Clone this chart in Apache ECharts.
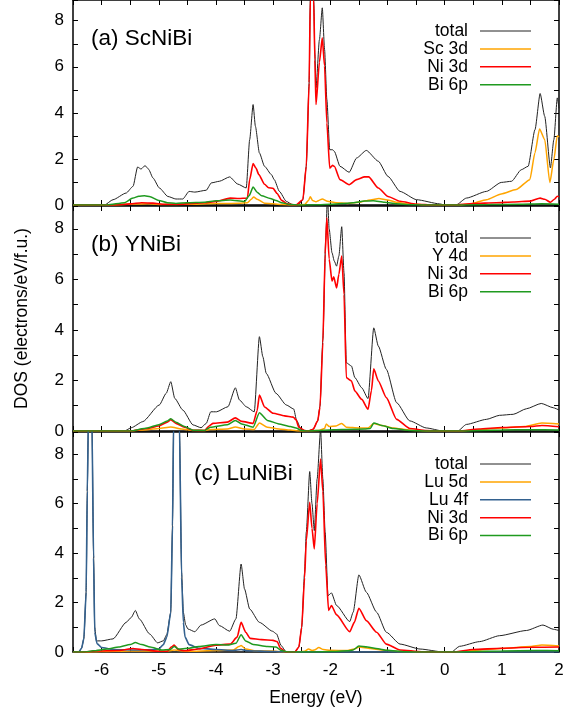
<!DOCTYPE html>
<html>
<head>
<meta charset="utf-8">
<script src="https://cdn.jsdelivr.net/npm/echarts@6/dist/echarts.min.js"></script>
<style>
  html, body { margin: 0; padding: 0; background: #fff; }
  #chart { width: 575px; height: 713px; }
</style>
</head>
<body>
<div id="chart"></div>
<script>
// energy (eV), DOS pairs

// (a) ScNiBi
const scTotal = [[-6.5,0],[-5.95,0],[-5.80,0.23],[-5.57,0.52],[-5.45,0.81],[-5.37,1.65],[-5.31,1.56],[-5.24,1.71],[-5.18,1.56],[-5.10,1.17],[-4.99,0.74],[-4.84,0.37],[-4.70,0.26],[-4.58,0.26],[-4.47,0.59],[-4.37,0.56],[-4.17,0.64],[-4.08,0.96],[-3.94,1.03],[-3.76,1.22],[-3.62,0.91],[-3.47,0.74],[-3.41,2.84],[-3.35,4.36],[-3.31,3.42],[-3.24,2.26],[-3.15,1.68],[-3.03,1.32],[-2.98,1.10],[-2.89,0.59],[-2.77,0.16],[-2.66,0.01],[-2.56,0],[-2.48,0.23],[-2.42,1.68],[-2.37,5.3],[-2.35,8.9],[-2.32,10.0],[-2.29,8.9],[-2.27,6.6],[-2.25,5.09],[-2.19,7.18],[-2.14,8.56],[-2.10,6.75],[-2.06,4.58],[-2.01,2.4],[-1.96,2.4],[-1.93,2.33],[-1.83,1.68],[-1.67,1.42],[-1.54,2.04],[-1.37,2.37],[-1.16,1.90],[-0.99,1.24],[-0.78,0.59],[-0.49,0.23],[-0.09,0.05],[0,0],[0.2,0],[0.38,0.30],[0.73,0.59],[0.99,0.98],[1.17,1.03],[1.34,1.53],[1.46,1.68],[1.58,3.27],[1.67,4.84],[1.75,3.85],[1.85,1.61],[1.91,2.84],[1.97,4.65],[2.0,4.2]];
const scSc3d = [[-6.5,0],[-5.8,0],[-5.4,0.04],[-5.2,0.05],[-4.9,0.02],[-4.5,0.03],[-4.0,0.06],[-3.6,0.08],[-3.45,0.1],[-3.38,0.25],[-3.34,0.35],[-3.28,0.25],[-3.15,0.08],[-3.0,0.05],[-2.85,0.02],[-2.7,0],[-2.45,0.02],[-2.38,0.2],[-2.35,0.36],[-2.31,0.2],[-2.25,0.14],[-2.2,0.2],[-2.14,0.26],[-2.05,0.16],[-1.9,0.1],[-1.7,0.07],[-1.5,0.12],[-1.3,0.22],[-1.15,0.28],[-1.0,0.22],[-0.85,0.12],[-0.6,0.04],[-0.3,0.01],[0,0],[0.25,0],[0.45,0.05],[0.73,0.23],[0.99,0.48],[1.25,0.67],[1.49,1.1],[1.58,2.27],[1.66,3.3],[1.75,2.84],[1.84,0.98],[1.91,1.97],[1.97,3.01],[2.0,2.95]];
const scNi3d = [[-6.5,0],[-5.8,0],[-5.5,0.05],[-5.3,0.1],[-5.1,0.08],[-4.9,0.03],[-4.6,0.04],[-4.2,0.1],[-4.0,0.15],[-3.75,0.3],[-3.6,0.28],[-3.45,0.3],[-3.41,1.1],[-3.35,1.80],[-3.30,1.6],[-3.25,1.32],[-3.15,0.9],[-3.08,0.75],[-3.0,0.72],[-2.93,0.5],[-2.85,0.2],[-2.75,0.05],[-2.6,0],[-2.48,0.23],[-2.42,1.68],[-2.37,5.3],[-2.35,8.9],[-2.32,10.0],[-2.29,8.9],[-2.27,6.3],[-2.25,4.36],[-2.19,6.2],[-2.14,7.26],[-2.10,6.03],[-2.06,3.56],[-2.01,1.6],[-1.96,1.72],[-1.93,1.68],[-1.83,1.10],[-1.67,0.88],[-1.54,1.10],[-1.40,1.22],[-1.33,1.22],[-1.16,0.74],[-0.99,0.37],[-0.78,0.16],[-0.49,0.03],[-0.2,0],[0.15,0],[0.5,0.06],[0.9,0.1],[1.2,0.13],[1.5,0.17],[1.67,0.30],[1.75,0.25],[1.85,0.12],[1.92,0.25],[1.97,0.38],[2.0,0.36]];
const scBi6p = [[-6.5,0],[-5.9,0],[-5.6,0.1],[-5.45,0.3],[-5.35,0.38],[-5.25,0.4],[-5.15,0.36],[-5.0,0.2],[-4.85,0.1],[-4.7,0.07],[-4.5,0.1],[-4.2,0.12],[-4.0,0.18],[-3.75,0.22],[-3.5,0.15],[-3.42,0.4],[-3.35,0.78],[-3.28,0.55],[-3.2,0.4],[-3.05,0.28],[-2.95,0.2],[-2.85,0.1],[-2.7,0.02],[-2.55,0],[-2.2,0.01],[-2.0,0.03],[-1.8,0.06],[-1.6,0.1],[-1.4,0.17],[-1.25,0.18],[-1.05,0.12],[-0.85,0.05],[-0.6,0.01],[0,0],[0.3,0],[0.8,0.02],[1.3,0.03],[1.7,0.05],[2.0,0.03]];

// (b) YNiBi
const yTotal = [[-6.5,0],[-5.6,0],[-5.48,0.13],[-5.28,0.37],[-4.99,1.03],[-4.87,1.49],[-4.79,1.95],[-4.72,1.29],[-4.58,0.83],[-4.40,0.24],[-4.26,0.13],[-4.17,0.30],[-4.09,0.76],[-3.99,0.76],[-3.79,0.96],[-3.66,1.71],[-3.59,1.23],[-3.47,0.96],[-3.33,0.76],[-3.24,3.73],[-3.18,2.94],[-3.12,2.28],[-2.95,1.49],[-2.77,1.03],[-2.64,0.87],[-2.59,0.43],[-2.51,0.05],[-2.40,0],[-2.30,0.07],[-2.22,0.4],[-2.18,0.99],[-2.13,3.62],[-2.08,7.58],[-2.05,9.3],[-2.02,8.0],[-1.97,7.05],[-1.93,6.72],[-1.89,6.52],[-1.85,6.92],[-1.80,8.08],[-1.76,6.26],[-1.72,2.70],[-1.63,2.57],[-1.57,2.11],[-1.45,1.71],[-1.34,1.28],[-1.24,4.08],[-1.16,3.36],[-1.02,2.44],[-0.84,1.12],[-0.61,0.40],[-0.32,0.12],[-0.03,0],[0.23,0],[0.38,0.26],[0.73,0.46],[0.96,0.62],[1.20,0.66],[1.43,0.88],[1.69,1.09],[1.90,0.92],[2.0,0.83]];
const yY4d = [[-6.5,0],[-5.5,0],[-5.2,0.05],[-5.0,0.1],[-4.79,0.16],[-4.6,0.08],[-4.4,0.02],[-4.2,0.02],[-4.1,0.06],[-3.8,0.08],[-3.66,0.16],[-3.5,0.08],[-3.33,0.06],[-3.24,0.32],[-3.1,0.15],[-2.9,0.08],[-2.7,0.04],[-2.55,0],[-2.2,0.02],[-2.1,0.1],[-2.07,0.28],[-2.02,0.18],[-1.9,0.2],[-1.8,0.3],[-1.72,0.15],[-1.5,0.12],[-1.34,0.12],[-1.24,0.3],[-1.1,0.22],[-0.9,0.12],[-0.6,0.03],[-0.3,0],[0.3,0],[0.6,0.05],[1.0,0.12],[1.4,0.18],[1.7,0.32],[2.0,0.28]];
const yNi3d = [[-6.5,0],[-5.5,0],[-5.2,0.1],[-5.0,0.2],[-4.85,0.35],[-4.79,0.45],[-4.7,0.3],[-4.55,0.15],[-4.4,0.03],[-4.2,0.02],[-4.12,0.2],[-4.05,0.3],[-3.8,0.35],[-3.66,0.52],[-3.55,0.38],[-3.35,0.3],[-3.28,0.8],[-3.24,1.42],[-3.15,0.95],[-3.0,0.7],[-2.8,0.6],[-2.65,0.55],[-2.6,0.45],[-2.55,0.15],[-2.45,0.02],[-2.38,0],[-2.30,0.07],[-2.22,0.4],[-2.18,0.95],[-2.13,3.5],[-2.09,7.0],[-2.06,8.43],[-2.02,6.8],[-1.97,5.93],[-1.94,6.1],[-1.89,5.66],[-1.85,6.2],[-1.80,6.92],[-1.76,5.4],[-1.72,2.11],[-1.63,1.98],[-1.57,1.58],[-1.45,1.25],[-1.34,0.86],[-1.28,1.6],[-1.24,2.46],[-1.16,1.98],[-1.02,1.32],[-0.84,0.46],[-0.61,0.1],[-0.32,0.02],[0,0],[0.25,0],[0.6,0.08],[1.0,0.14],[1.5,0.18],[1.7,0.22],[2.0,0.17]];
const yBi6p = [[-6.5,0],[-5.5,0],[-5.2,0.12],[-5.0,0.25],[-4.85,0.4],[-4.79,0.48],[-4.7,0.35],[-4.55,0.18],[-4.4,0.03],[-4.2,0.02],[-4.1,0.15],[-3.8,0.25],[-3.66,0.42],[-3.55,0.28],[-3.35,0.15],[-3.24,0.72],[-3.1,0.42],[-2.9,0.28],[-2.7,0.18],[-2.6,0.12],[-2.5,0.02],[-2.4,0],[-2.1,0.03],[-1.8,0.06],[-1.4,0.08],[-1.3,0.1],[-1.24,0.32],[-1.1,0.22],[-0.9,0.1],[-0.6,0.02],[-0.3,0],[0.3,0],[1.0,0.04],[1.5,0.05],[2.0,0.04]];

// (c) LuNiBi
const luTotal = [[-6.5,0],[-6.40,0],[-6.35,0.15],[-6.31,0.54],[-6.27,2.43],[-6.25,6.5],[-6.23,9.5],[-6.20,25],[-6.17,9.5],[-6.14,3.9],[-6.12,1.0],[-6.09,0.45],[-6.0,0.45],[-5.80,0.53],[-5.57,1.20],[-5.48,1.40],[-5.41,1.68],[-5.34,1.34],[-5.16,0.73],[-5.02,0.37],[-4.92,0.45],[-4.86,0.7],[-4.79,1.6],[-4.76,5.1],[-4.74,9.3],[-4.69,25],[-4.64,9.3],[-4.60,3.2],[-4.57,1.6],[-4.53,1.1],[-4.49,0.93],[-4.37,0.82],[-4.26,1.09],[-4.02,1.34],[-3.94,1.07],[-3.76,0.84],[-3.65,1.34],[-3.56,3.56],[-3.50,2.55],[-3.41,1.74],[-3.24,1.20],[-3.01,0.84],[-2.94,0.73],[-2.86,0.26],[-2.77,0],[-2.62,0],[-2.55,0.2],[-2.50,1.0],[-2.45,3.2],[-2.42,4.85],[-2.36,7.30],[-2.32,6.0],[-2.28,4.91],[-2.23,7.0],[-2.17,9.0],[-2.13,7.0],[-2.09,4.85],[-2.04,2.28],[-1.98,2.39],[-1.89,1.88],[-1.66,1.23],[-1.60,1.61],[-1.50,3.12],[-1.37,2.42],[-1.19,1.61],[-1.02,0.80],[-0.78,0.32],[-0.43,0.12],[-0.02,0],[0.12,0],[0.26,0.23],[0.61,0.42],[0.96,0.66],[1.43,0.87],[1.72,1.09],[1.90,0.92],[2.0,0.87]];
const luLu5d = [[-6.5,0],[-6.3,0],[-6.0,0.02],[-5.5,0.04],[-5.2,0.05],[-4.9,0.03],[-4.73,0.08],[-4.5,0.03],[-4.0,0.06],[-3.7,0.08],[-3.6,0.22],[-3.56,0.26],[-3.48,0.12],[-3.3,0.05],[-3.0,0.04],[-2.85,0.01],[-2.6,0],[-2.45,0.03],[-2.38,0.12],[-2.32,0.06],[-2.28,0.08],[-2.2,0.18],[-2.12,0.1],[-2.0,0.07],[-1.7,0.06],[-1.58,0.12],[-1.5,0.2],[-1.3,0.14],[-1.1,0.08],[-0.8,0.02],[-0.4,0],[0.2,0],[0.6,0.08],[1.0,0.14],[1.5,0.22],[1.7,0.28],[2.0,0.24]];
const luLu4f = [[-6.5,0],[-6.40,0],[-6.35,0.15],[-6.31,0.54],[-6.27,2.43],[-6.25,6.5],[-6.23,9.5],[-6.20,25],[-6.17,9.5],[-6.14,3.8],[-6.12,0.8],[-6.08,0.34],[-6.0,0.18],[-5.8,0.1],[-5.4,0.08],[-5.1,0.1],[-5.0,0.12],[-4.92,0.3],[-4.86,0.6],[-4.79,1.6],[-4.76,5.1],[-4.74,9.3],[-4.69,25],[-4.64,9.3],[-4.60,3.0],[-4.57,1.2],[-4.54,0.6],[-4.47,0.3],[-4.3,0.15],[-4.0,0.1],[-3.7,0.06],[-3.56,0.1],[-3.45,0.05],[-3.0,0.02],[-2.6,0],[2.0,0]];
const luNi3d = [[-6.5,0],[-6.3,0],[-6.1,0.04],[-5.7,0.06],[-5.45,0.14],[-5.3,0.1],[-5.0,0.03],[-4.85,0.03],[-4.78,0.2],[-4.73,0.28],[-4.66,0.1],[-4.55,0.05],[-4.3,0.12],[-4.0,0.28],[-3.75,0.32],[-3.63,0.6],[-3.56,1.2],[-3.48,0.8],[-3.4,0.55],[-3.2,0.5],[-3.0,0.47],[-2.93,0.42],[-2.87,0.15],[-2.78,0],[-2.62,0],[-2.55,0.2],[-2.50,1.0],[-2.45,3.0],[-2.42,4.5],[-2.36,6.06],[-2.32,5.0],[-2.28,4.17],[-2.23,6.0],[-2.17,7.81],[-2.13,6.5],[-2.08,3.5],[-2.03,1.68],[-1.98,1.88],[-1.89,1.50],[-1.66,0.82],[-1.58,1.2],[-1.50,1.77],[-1.37,1.27],[-1.19,0.80],[-1.02,0.32],[-0.78,0.08],[-0.4,0.01],[0,0],[0.15,0],[0.5,0.1],[1.0,0.15],[1.5,0.19],[2.0,0.2]];
const luBi6p = [[-6.5,0],[-6.3,0],[-6.15,0.05],[-5.9,0.12],[-5.7,0.2],[-5.5,0.3],[-5.41,0.38],[-5.3,0.3],[-5.15,0.2],[-4.95,0.08],[-4.8,0.1],[-4.73,0.22],[-4.65,0.12],[-4.5,0.15],[-4.3,0.22],[-4.0,0.3],[-3.8,0.28],[-3.65,0.35],[-3.56,0.70],[-3.48,0.45],[-3.35,0.3],[-3.1,0.22],[-2.95,0.2],[-2.85,0.06],[-2.75,0],[-2.3,0],[-2.0,0.02],[-1.7,0.05],[-1.6,0.08],[-1.5,0.24],[-1.35,0.2],[-1.2,0.14],[-1.0,0.07],[-0.7,0.01],[-0.4,0],[0.2,0],[1.0,0.04],[1.6,0.06],[2.0,0.05]];

const panelTitles = ['(a) ScNiBi', '(b) YNiBi', '(c) LuNiBi'];
const xMin = -6.5, xMax = 2, yMax = 8.9;

const C = { total: '#222222', d: '#ffa500', f: '#33618f', ni: '#ff0000', bi: '#1f9a1f' };

const panels = [
  [['total', scTotal, C.total, 1], ['Sc 3d', scSc3d, C.d, 1.5], ['Ni 3d', scNi3d, C.ni, 1.6], ['Bi 6p', scBi6p, C.bi, 1.5]],
  [['total', yTotal, C.total, 1], ['Y 4d', yY4d, C.d, 1.5], ['Ni 3d', yNi3d, C.ni, 1.6], ['Bi 6p', yBi6p, C.bi, 1.5]],
  [['total', luTotal, C.total, 1], ['Lu 5d', luLu5d, C.d, 1.5], ['Lu 4f', luLu4f, C.f, 1.6], ['Ni 3d', luNi3d, C.ni, 1.6], ['Bi 6p', luBi6p, C.bi, 1.5]]
];

const gridBoxes = [{ top: 0, h: 205 }, { top: 206, h: 225 }, { top: 432, h: 220 }];
const FONT = 'Liberation Sans, Arial, Helvetica, sans-serif';

const grid = [], xAxis = [], yAxis = [], series = [], graphic = [];
const axisLine = { show: true, onZero: false, lineStyle: { color: '#000', width: 1.5 } };

gridBoxes.forEach((g, i) => {
  grid.push({ left: 73, right: 16, top: g.top, height: g.h, containLabel: false });
  [ 'bottom', 'top' ].forEach(pos => {
    xAxis.push({
      type: 'value', gridIndex: i, position: pos, min: xMin, max: xMax, interval: 0.5,
      axisLine: axisLine,
      axisTick: { show: true, inside: true, length: 5, lineStyle: { color: '#000', width: 1 } },
      axisLabel: {
        show: pos === 'bottom' && i === 2, margin: 10, color: '#000', fontSize: 17, fontFamily: FONT,
        formatter: v => Number.isInteger(v) ? String(v) : ''
      },
      splitLine: { show: false },
      name: pos === 'bottom' && i === 2 ? 'Energy (eV)' : '',
      nameLocation: 'middle', nameGap: 37,
      nameTextStyle: { color: '#000', fontSize: 17.5, fontFamily: FONT }
    });
  });
  [ 'left', 'right' ].forEach(pos => {
    yAxis.push({
      type: 'value', gridIndex: i, position: pos, min: 0, max: yMax, interval: 1,
      axisLine: axisLine,
      axisTick: { show: true, inside: true, length: 5, lineStyle: { color: '#000', width: 1 } },
      axisLabel: {
        show: pos === 'left', margin: 9, color: '#000', fontSize: 17, fontFamily: FONT,
        formatter: v => (Number.isInteger(v) && v % 2 === 0) ? String(v) : ''
      },
      splitLine: { show: false },
      name: pos === 'left' && i === 1 ? 'DOS (electrons/eV/f.u.)' : '',
      nameLocation: 'middle', nameGap: 42,
      nameTextStyle: { color: '#000', fontSize: 17.5, fontFamily: FONT }
    });
  });

  // panel title
  graphic.push({
    type: 'text', left: i === 2 ? 194 : 91, top: g.top + (i === 2 ? 30 : 27),
    style: { text: panelTitles[i], font: '22.5px ' + FONT, fill: '#000' }
  });

  panels[i].forEach((s, k) => {
    series.push({
      type: 'line', name: s[0] + ' ' + i, xAxisIndex: 2 * i, yAxisIndex: 2 * i,
      data: s[1], showSymbol: false, symbol: 'none', clip: true, z: 2 + k,
      smooth: 0.2, smoothMonotone: 'x',
      lineStyle: { color: s[2], width: s[3] }, animation: false
    });
    // legend row
    const rowY = g.top + (i === 0 ? 31 : 32) + k * 17.9;
    graphic.push({
      type: 'text', x: 468, y: rowY,
      style: { text: s[0], font: '17.5px ' + FONT, fill: '#000', textAlign: 'right', textVerticalAlign: 'middle' }
    });
    graphic.push({
      type: 'line', shape: { x1: 480, y1: rowY, x2: 531, y2: rowY },
      style: { stroke: s[2], lineWidth: s[3] }
    });
  });
});

const chart = echarts.init(document.getElementById('chart'), null, { renderer: 'canvas' });
chart.setOption({
  animation: false,
  backgroundColor: '#fff',
  grid, xAxis, yAxis, series, graphic
});
</script>
</body>
</html>
